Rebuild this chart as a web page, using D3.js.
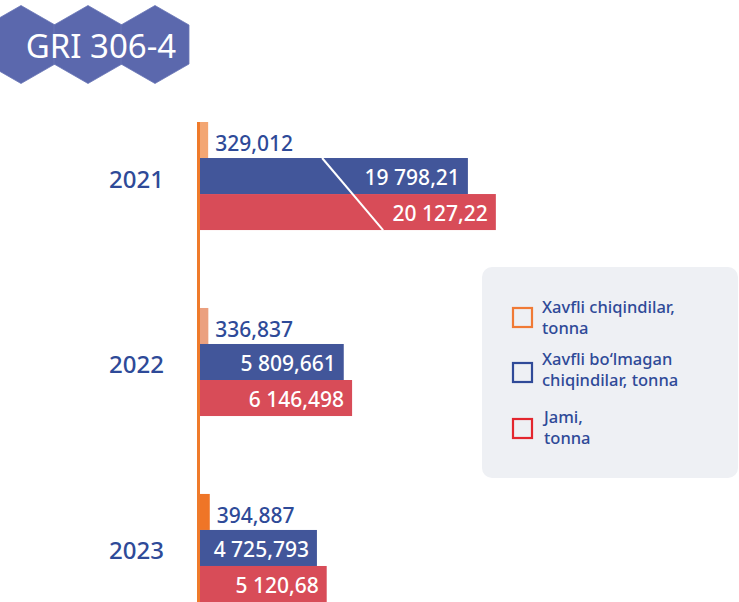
<!DOCTYPE html>
<html>
<head>
<meta charset="utf-8">
<script src="https://cdn.jsdelivr.net/npm/d3@7"></script>
<style>
  html, body { margin: 0; padding: 0; background: #ffffff; }
  svg { display: block; font-family: "Noto Sans", "Open Sans", sans-serif; font-weight: 500; }
</style>
</head>
<body>
<svg id="chart" width="739" height="602"></svg>
<script>
// Waste generated, tonnes
const years = ["2021", "2022", "2023"];
const hazardous = [329.012, 336.837, 394.887];
const nonHazardous = [19798.21, 5809.661, 4725.793];
const total = [20127.22, 6146.498, 5120.68];

const hazardousLabels = ["329,012", "336,837", "394,887"];
const nonHazardousLabels = ["19 798,21", "5 809,661", "4 725,793"];
const totalLabels = ["20 127,22", "6 146,498", "5 120,68"];

const seriesKeys = ["hazardous", "nonHazardous", "total"];
const legendLabels = [
  ["Xavfli chiqindilar,", "tonna"],
  ["Xavfli bo‘lmagan", "chiqindilar, tonna"],
  ["Jami,", "tonna"]
];
const badgeText = "GRI 306-4";

const svg = d3.select("#chart");

// ---- Badge: three hexagons with the standard code ----
const hexR = 39, hexCy = 44.5;
const hexCenters = [21, 88, 155];
const hexPath = cx => {
  const hw = 34;
  return `M${cx},${hexCy - hexR} L${cx + hw},${hexCy - hexR / 2} L${cx + hw},${hexCy + hexR / 2}` +
         ` L${cx},${hexCy + hexR} L${cx - hw},${hexCy + hexR / 2} L${cx - hw},${hexCy - hexR / 2} Z`;
};
svg.append("g").selectAll("path").data(hexCenters).join("path")
  .attr("d", hexPath)
  .attr("fill", "#5b68ad")
  .attr("stroke", "#6a76b6")
  .attr("stroke-width", 0.8);
svg.append("text")
  .attr("x", 101).attr("y", 45)
  .attr("text-anchor", "middle").attr("dominant-baseline", "central")
  .attr("fill", "#ffffff").attr("font-size", 33).attr("font-weight", 400)
  .text(badgeText);

// ---- Scales ----
// Axis with a break between 7 400 and 18 800 t so the 2021 bars fit.
const x0 = 200;
const breakLo = 7400, breakHi = 18800;
const x = d3.scaleLinear()
  .domain([0, breakLo, breakHi, 21000])
  .range([x0, x0 + 183.1, x0 + 183.1, x0 + 370]);

const y = d3.scaleBand()
  .domain(years)
  .range([122, 602])
  .paddingInner(0.419)
  .paddingOuter(0);

const ySub = d3.scaleBand()
  .domain(seriesKeys)
  .range([0, y.bandwidth()])
  .padding(0);

const rows = years.map((yr, i) => ({
  year: yr,
  hazardous: hazardous[i], nonHazardous: nonHazardous[i], total: total[i],
  hLabel: hazardousLabels[i], nLabel: nonHazardousLabels[i], tLabel: totalLabels[i]
}));

const hazardColors = ["#f3a673", "#eba07f", "#ef7527"];
const blue = "#42569a";
const red = "#d84c58";
const textBlue = "#2e4a98";

const groups = svg.append("g").selectAll("g").data(rows).join("g")
  .attr("transform", d => `translate(0,${y(d.year)})`);

// hazardous waste bars
groups.append("rect")
  .attr("x", x(0))
  .attr("y", ySub("hazardous"))
  .attr("width", d => x(d.hazardous) - x(0))
  .attr("height", ySub.bandwidth())
  .attr("fill", (d, i) => hazardColors[i]);

// non-hazardous waste bars
groups.append("rect")
  .attr("x", x(0))
  .attr("y", ySub("nonHazardous"))
  .attr("width", d => x(d.nonHazardous) - x(0))
  .attr("height", ySub.bandwidth())
  .attr("fill", blue);

// total bars
groups.append("rect")
  .attr("x", x(0))
  .attr("y", ySub("total"))
  .attr("width", d => x(d.total) - x(0))
  .attr("height", ySub.bandwidth())
  .attr("fill", red);

// scale-break marker across bars that cross the break
groups.filter(d => d.nonHazardous > breakHi)
  .append("line")
  .attr("x1", x(breakLo) - 61)
  .attr("y1", ySub("nonHazardous"))
  .attr("x2", x(breakLo))
  .attr("y2", ySub("total") + ySub.bandwidth())
  .attr("stroke", "#ffffff")
  .attr("stroke-width", 2);

// value labels
groups.append("text")
  .attr("x", d => x(d.hazardous) + 7)
  .attr("y", ySub("hazardous") + ySub.bandwidth() / 2 + 3)
  .attr("dominant-baseline", "central")
  .attr("fill", textBlue).attr("font-size", 21)
  .text(d => d.hLabel);

groups.append("text")
  .attr("x", d => x(d.nonHazardous) - 8)
  .attr("y", ySub("nonHazardous") + ySub.bandwidth() / 2 + 1)
  .attr("text-anchor", "end").attr("dominant-baseline", "central")
  .attr("fill", "#ffffff").attr("font-size", 21)
  .text(d => d.nLabel);

groups.append("text")
  .attr("x", d => x(d.total) - 8)
  .attr("y", ySub("total") + ySub.bandwidth() / 2 + 1)
  .attr("text-anchor", "end").attr("dominant-baseline", "central")
  .attr("fill", "#ffffff").attr("font-size", 21)
  .text(d => d.tLabel);

// year labels
groups.append("text")
  .attr("x", 164)
  .attr("y", ySub("nonHazardous") + ySub.bandwidth() / 2 + 2)
  .attr("text-anchor", "end").attr("dominant-baseline", "central")
  .attr("fill", textBlue).attr("font-size", 24)
  .text(d => d.year);

// vertical axis line
svg.append("line")
  .attr("x1", 198.5).attr("x2", 198.5)
  .attr("y1", y.range()[0]).attr("y2", y.range()[1])
  .attr("stroke", "#ef7a2a").attr("stroke-width", 3);

// ---- Legend ----
const legend = svg.append("g");
legend.append("rect")
  .attr("x", 482).attr("y", 267).attr("width", 256).attr("height", 211)
  .attr("rx", 10).attr("fill", "#eef0f4");

const legendColors = ["#f07a35", "#2f4a98", "#e3262e"];
const legendY = [307, 362, 418];
const legendTextY = [313, 365, 423];
const legendTextX = [542, 542, 544];
const items = legend.selectAll("g.item").data(legendLabels).join("g").attr("class", "item");
items.append("rect")
  .attr("x", 513).attr("y", (d, i) => legendY[i] + 1)
  .attr("width", 19).attr("height", 19)
  .attr("fill", "none")
  .attr("stroke", (d, i) => legendColors[i])
  .attr("stroke-width", 2.2);
items.each(function (lines, i) {
  const t = d3.select(this).append("text")
    .attr("fill", textBlue).attr("font-size", 16.5);
  lines.forEach((ln, j) => {
    t.append("tspan")
      .attr("x", legendTextX[i])
      .attr("y", legendTextY[i] + j * 21)
      .text(ln);
  });
});
</script>
</body>
</html>
